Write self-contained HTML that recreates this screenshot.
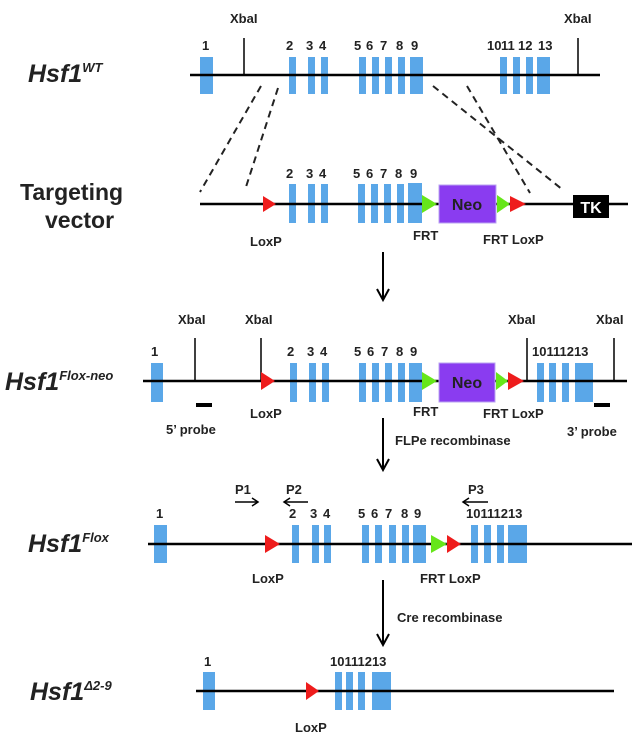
<!DOCTYPE html>
<html><head><meta charset="utf-8"><style>
body{margin:0;background:#fff}
svg{display:block}
text{font-family:"Liberation Sans",sans-serif;font-weight:bold;fill:#222}
.n{font-size:13px}
.l{font-size:13px}
.t{font-size:25px;font-style:italic}
.s{font-size:13px;font-style:italic}
</style></head><body>
<svg width="640" height="736" viewBox="0 0 640 736" xmlns="http://www.w3.org/2000/svg">
<g fill="#5aa7e8">
<rect x="200" y="57" width="13" height="37"/>
<rect x="289" y="57" width="7" height="37"/><rect x="308" y="57" width="7" height="37"/><rect x="321" y="57" width="7" height="37"/>
<rect x="359" y="57" width="7" height="37"/><rect x="372" y="57" width="7" height="37"/><rect x="385" y="57" width="7" height="37"/><rect x="398" y="57" width="7" height="37"/><rect x="410" y="57" width="13" height="37"/>
<rect x="500" y="57" width="7" height="37"/><rect x="513" y="57" width="7" height="37"/><rect x="526" y="57" width="7" height="37"/><rect x="537" y="57" width="13" height="37"/>
<rect x="289" y="184" width="7" height="39"/><rect x="308" y="184" width="7" height="39"/><rect x="321" y="184" width="7" height="39"/>
<rect x="358" y="184" width="7" height="39"/><rect x="371" y="184" width="7" height="39"/><rect x="384" y="184" width="7" height="39"/><rect x="397" y="184" width="7" height="39"/><rect x="408" y="183" width="14" height="40"/>
<rect x="151" y="363" width="12" height="39"/>
<rect x="290" y="363" width="7" height="39"/><rect x="309" y="363" width="7" height="39"/><rect x="322" y="363" width="7" height="39"/>
<rect x="359" y="363" width="7" height="39"/><rect x="372" y="363" width="7" height="39"/><rect x="385" y="363" width="7" height="39"/><rect x="398" y="363" width="7" height="39"/><rect x="409" y="363" width="13" height="39"/>
<rect x="537" y="363" width="7" height="39"/><rect x="549" y="363" width="7" height="39"/><rect x="562" y="363" width="7" height="39"/><rect x="575" y="363" width="18" height="39"/>
<rect x="154" y="525" width="13" height="38"/>
<rect x="292" y="525" width="7" height="38"/><rect x="312" y="525" width="7" height="38"/><rect x="324" y="525" width="7" height="38"/>
<rect x="362" y="525" width="7" height="38"/><rect x="375" y="525" width="7" height="38"/><rect x="389" y="525" width="7" height="38"/><rect x="402" y="525" width="7" height="38"/><rect x="413" y="525" width="13" height="38"/>
<rect x="471" y="525" width="7" height="38"/><rect x="484" y="525" width="7" height="38"/><rect x="497" y="525" width="7" height="38"/><rect x="508" y="525" width="19" height="38"/>
<rect x="203" y="672" width="12" height="38"/>
<rect x="335" y="672" width="7" height="38"/><rect x="346" y="672" width="7" height="38"/><rect x="358" y="672" width="7" height="38"/><rect x="372" y="672" width="19" height="38"/>
</g>
<g stroke="#000" stroke-width="2.5">
<line x1="190" y1="75" x2="600" y2="75"/>
<line x1="200" y1="204" x2="628" y2="204"/>
<line x1="143" y1="381" x2="627" y2="381"/>
<line x1="148" y1="544" x2="632" y2="544"/>
<line x1="196" y1="691" x2="614" y2="691"/>
</g>
<g stroke="#000" stroke-width="1.5">
<line x1="244" y1="38" x2="244" y2="75"/><line x1="578" y1="38" x2="578" y2="75"/>
<line x1="195" y1="338" x2="195" y2="381"/><line x1="261" y1="338" x2="261" y2="381"/><line x1="527" y1="338" x2="527" y2="381"/><line x1="614" y1="338" x2="614" y2="381"/>
</g>
<g stroke="#222" stroke-width="2" stroke-dasharray="7,5">
<line x1="261" y1="86" x2="200" y2="192"/>
<line x1="278" y1="88" x2="245" y2="190"/>
<line x1="433" y1="86" x2="563" y2="190"/>
<line x1="467" y1="86" x2="530" y2="193"/>
</g>
<g fill="#ee1c1c">
<polygon points="263,196 276,204 263,212"/>
<polygon points="510,196 526,204 510,212"/>
<polygon points="261,372 275,381 261,390"/>
<polygon points="508,372 524,381 508,390"/>
<polygon points="265,535 280,544 265,553"/>
<polygon points="447,535 461,544 447,553"/>
<polygon points="306,682 319,691 306,700"/>
</g>
<g fill="#66e61a">
<polygon points="422,195 437,204 422,213"/>
<polygon points="497,195 510,204 497,213"/>
<polygon points="422,372 437,381 422,390"/>
<polygon points="496,372 508,381 496,390"/>
<polygon points="431,535 447,544 431,553"/>
</g>
<rect x="439" y="185" width="57" height="38" fill="#8a3cf0" stroke="#b9a3f0" stroke-width="1"/>
<rect x="439" y="363" width="56" height="39" fill="#8a3cf0" stroke="#b9a3f0" stroke-width="1"/>
<rect x="573" y="195" width="36" height="23" fill="#000"/>
<text x="591" y="213" font-size="16" text-anchor="middle" style="fill:#fff">TK</text>
<text x="467" y="210" font-size="16" text-anchor="middle">Neo</text>
<text x="467" y="388" font-size="16" text-anchor="middle">Neo</text>
<rect x="196" y="403" width="16" height="4" fill="#000"/>
<rect x="594" y="403" width="16" height="4" fill="#000"/>
<g stroke="#000" stroke-width="2" fill="none">
<line x1="383" y1="252" x2="383" y2="299"/><path d="M377,289 L383,300 L389,289"/>
<line x1="383" y1="418" x2="383" y2="469"/><path d="M377,459 L383,470 L389,459"/>
<line x1="383" y1="580" x2="383" y2="644"/><path d="M377,634 L383,645 L389,634"/>
</g>
<g stroke="#000" stroke-width="1.5" fill="none">
<line x1="235" y1="502" x2="257" y2="502"/><path d="M252,498 L258,502 L252,506"/>
<line x1="284" y1="502" x2="308" y2="502"/><path d="M290,498 L284,502 L290,506"/>
<line x1="463" y1="502" x2="488" y2="502"/><path d="M469,498 L463,502 L469,506"/>
</g>
<text class="t" x="28" y="82">Hsf1<tspan class="s" dy="-10">WT</tspan></text>
<text x="20" y="200" font-size="23">Targeting</text>
<text x="45" y="228" font-size="23">vector</text>
<text class="t" x="5" y="390">Hsf1<tspan class="s" dy="-10">Flox-neo</tspan></text>
<text class="t" x="28" y="552">Hsf1<tspan class="s" dy="-10">Flox</tspan></text>
<text class="t" x="30" y="700">Hsf1<tspan class="s" dy="-10">Δ2-9</tspan></text>
<g class="l">
<text x="230" y="23">XbaI</text><text x="564" y="23">XbaI</text>
<text x="178" y="324">XbaI</text><text x="245" y="324">XbaI</text><text x="508" y="324">XbaI</text><text x="596" y="324">XbaI</text>
<text x="250" y="246">LoxP</text><text x="413" y="240">FRT</text><text x="483" y="244">FRT LoxP</text>
<text x="250" y="418">LoxP</text><text x="413" y="416">FRT</text><text x="483" y="418">FRT LoxP</text>
<text x="166" y="434">5’ probe</text><text x="567" y="436">3’ probe</text>
<text x="395" y="445">FLPe recombinase</text>
<text x="397" y="622">Cre recombinase</text>
<text x="235" y="494">P1</text><text x="286" y="494">P2</text><text x="468" y="494">P3</text>
<text x="252" y="583">LoxP</text><text x="420" y="583">FRT LoxP</text>
<text x="295" y="732">LoxP</text>
</g>
<g class="n">
<text x="202" y="50">1</text><text x="286" y="50">2</text><text x="306" y="50">3</text><text x="319" y="50">4</text>
<text x="354" y="50">5</text><text x="366" y="50">6</text><text x="380" y="50">7</text><text x="396" y="50">8</text><text x="411" y="50">9</text>
<text x="487" y="50">10</text><text x="501" y="50">11</text><text x="518" y="50">12</text><text x="538" y="50">13</text>
<text x="286" y="178">2</text><text x="306" y="178">3</text><text x="319" y="178">4</text>
<text x="353" y="178">5</text><text x="366" y="178">6</text><text x="380" y="178">7</text><text x="395" y="178">8</text><text x="410" y="178">9</text>
<text x="151" y="356">1</text><text x="287" y="356">2</text><text x="307" y="356">3</text><text x="320" y="356">4</text>
<text x="354" y="356">5</text><text x="367" y="356">6</text><text x="381" y="356">7</text><text x="396" y="356">8</text><text x="410" y="356">9</text>
<text x="532" y="356">10111213</text>
<text x="156" y="518">1</text><text x="289" y="518">2</text><text x="310" y="518">3</text><text x="323" y="518">4</text>
<text x="358" y="518">5</text><text x="371" y="518">6</text><text x="385" y="518">7</text><text x="401" y="518">8</text><text x="414" y="518">9</text>
<text x="466" y="518">10111213</text>
<text x="204" y="666">1</text>
<text x="330" y="666">10111213</text>
</g>
</svg>
</body></html>
